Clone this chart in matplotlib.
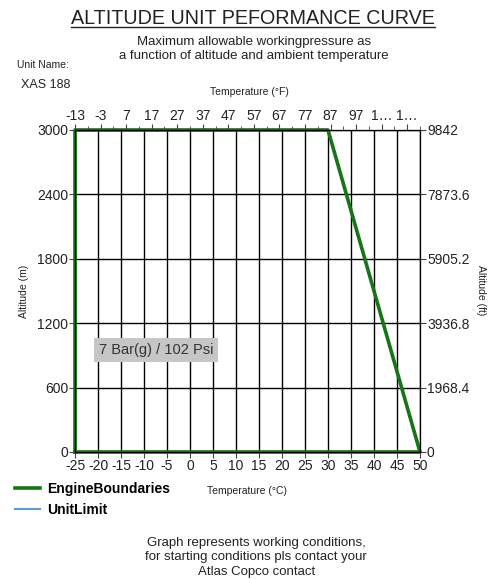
import matplotlib
matplotlib.use("Agg")
import matplotlib.pyplot as plt
from matplotlib.lines import Line2D

plt.rcParams['font.family'] = ['Liberation Sans', 'DejaVu Sans']
plt.rcParams['axes.unicode_minus'] = False

# engine boundary polygon (temperature degC, altitude m)
engine_temp = [-25, -25, 30, 50, -25]
engine_alt = [0, 3000, 3000, 0, 0]
# unit limit series (not visible in the chart)
unit_temp = []
unit_alt = []

celsius_ticks = list(range(-25, 51, 5))
alt_ticks = [0, 600, 1200, 1800, 2400, 3000]
feet_ticks = [0, 1968.4, 3936.8, 5905.2, 7873.6, 9842]
feet_labels = ['0', '1968.4', '3936.8', '5905.2', '7873.6', '9842']
fahr_ticks = list(range(-13, 118, 10))
fahr_labels = ['-13', '-3', '7', '17', '27', '37', '47', '57', '67', '77',
               '87', '97', '1\u2026', '1\u2026']
fahr_minor = list(range(-8, 123, 10))

green = '#167516'
blue = '#5b9bd5'
txt = '#222222'

fig = plt.figure(figsize=(4.89, 5.8), dpi=100)
ax = fig.add_axes([0.1534, 0.2207, 0.7055, 0.5552])

ax.plot(engine_temp, engine_alt, color=green, lw=2.6, zorder=5, clip_on=False)
ax.plot(unit_temp, unit_alt, color=blue, lw=1.5, zorder=6)

ax.set_xlim(-25, 50)
ax.set_ylim(0, 3000)
ax.set_xticks(celsius_ticks)
ax.set_yticks(alt_ticks)
ax.grid(True, color='black', lw=1)
ax.tick_params(labelsize=10, length=4, color='#444444', labelcolor=txt, pad=1)
ax.set_ylabel('Altitude (m)', fontsize=7.5, labelpad=6, color=txt)
for s in ax.spines.values():
    s.set_color('#555555')

# right axis in feet
axr = ax.twinx()
axr.set_ylim(0, 9842)
axr.set_yticks(feet_ticks)
axr.set_yticklabels(feet_labels)
axr.tick_params(labelsize=10, length=4, color='#444444', labelcolor=txt, pad=1)

# top axis in fahrenheit
axt = ax.twiny()
axt.set_xlim(-13, 122)
axt.set_xticks(fahr_ticks)
axt.set_xticklabels(fahr_labels)
axt.set_xticks(fahr_minor, minor=True)
axt.tick_params(labelsize=10, length=4, color='#444444', labelcolor=txt, pad=1)
axt.tick_params(which='minor', length=3, color='#444444')

ax.text(-19.8, 950, '7 Bar(g) / 102 Psi', fontsize=10.5, color='#333333',
        va='center', ha='left', zorder=7,
        bbox=dict(facecolor='#c6c6c6', edgecolor='none', pad=3.5))

# titles
title = fig.text(0.517, 0.968, 'ALTITUDE UNIT PEFORMANCE CURVE', fontsize=14.2,
                 ha='center', va='center', color=txt)
fig.text(0.52, 0.915, 'Maximum allowable workingpressure as\n'
         'a function of altitude and ambient temperature',
         fontsize=9.5, ha='center', va='center', color=txt, linespacing=1.25)
fig.canvas.draw()
bb = title.get_window_extent().transformed(fig.transFigure.inverted())
fig.add_artist(Line2D([bb.x0, bb.x1], [bb.y0 + 0.001, bb.y0 + 0.001],
                      color=txt, lw=1))

fig.text(0.035, 0.888, 'Unit Name:', fontsize=7.5, color=txt, va='center')
fig.text(0.042, 0.854, 'XAS 188', fontsize=9, color=txt, va='center')
fig.text(0.51, 0.841, 'Temperature (\u00b0F)', fontsize=7.5, ha='center',
         va='center', color=txt)
fig.text(0.505, 0.154, 'Temperature (\u00b0C)', fontsize=7.5, ha='center',
         va='center', color=txt)
fig.text(0.983, 0.5, 'Altitude (ft)', fontsize=7.5, rotation=-90, ha='center',
         va='center', color=txt)

handles = [Line2D([], [], color=green, lw=2.6), Line2D([], [], color=blue, lw=1.5)]
fig.legend(handles, ['EngineBoundaries', 'UnitLimit'], loc='upper left',
           bbox_to_anchor=(0.005, 0.191), frameon=False, handlelength=1.8,
           handletextpad=0.5, labelspacing=0.5, prop={'weight': 'bold', 'size': 10})

fig.text(0.524, 0.039, 'Graph represents working conditions,\n'
         'for starting conditions pls contact your\nAtlas Copco contact',
         fontsize=9.5, ha='center', va='center', color=txt, linespacing=1.3)

fig.savefig('out.png', dpi=100)
